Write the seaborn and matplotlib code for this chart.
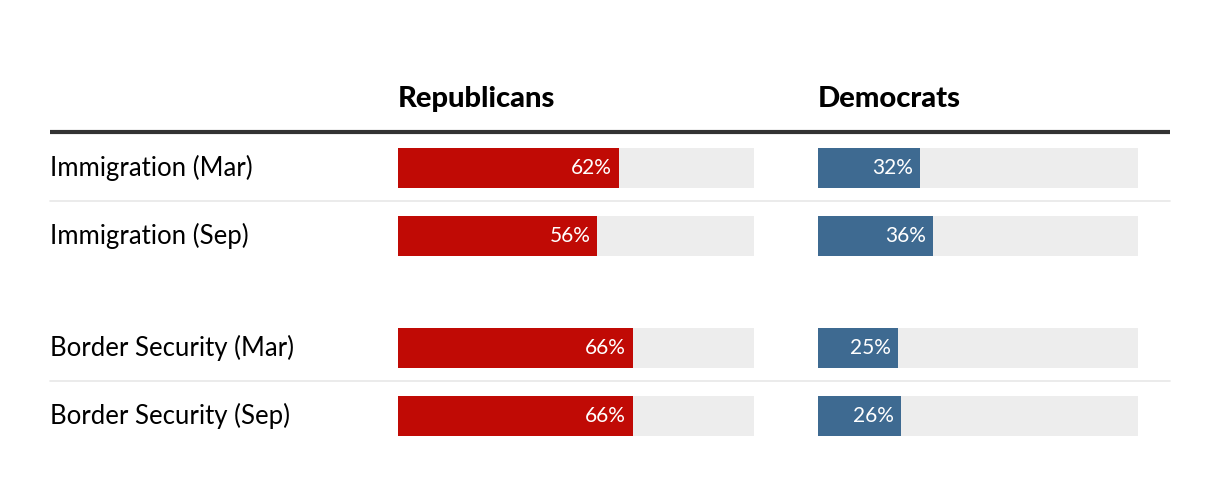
import matplotlib
matplotlib.use("Agg")
import matplotlib.pyplot as plt
import seaborn as sns

categories = ["Immigration (Mar)", "Immigration (Sep)", "Border Security (Mar)", "Border Security (Sep)"]
republicans = [62, 56, 66, 66]
democrats = [32, 36, 25, 26]
groups = ["Republicans", "Democrats"]

sns.set_theme(style="white")
plt.rcParams["font.family"] = ["Lato", "DejaVu Sans"]

W, H = 1220, 498
fig = plt.figure(figsize=(W / 100, H / 100), dpi=100)
fig.patch.set_facecolor("white")

# layout (pixels)
row_y = []
y = 168
for i in range(len(categories)):
    row_y.append(y)
    y += 112 if i == 1 else 68
bar_h = 40

bg = fig.add_axes([0, 0, 1, 1])
bg.set_xlim(0, W)
bg.set_ylim(H, 0)
bg.axis("off")

RED = "#C00A05"
BLUE = "#3E6A91"
GREY = "#EDEDED"

panels = [(398, 356, republicans, RED), (818, 320, democrats, BLUE)]
for (x0, w, vals, col), name in zip(panels, groups):
    ax = fig.add_axes([x0 / W, 0, w / W, 1])
    sns.barplot(x=[100] * len(vals), y=row_y, orient="h", native_scale=True,
                width=bar_h / 68, color=GREY, saturation=1, errorbar=None,
                linewidth=0, ax=ax)
    sns.barplot(x=vals, y=row_y, orient="h", native_scale=True,
                width=bar_h / 68, color=col, saturation=1, errorbar=None,
                linewidth=0, ax=ax)
    ax.set_xlim(0, 100)
    ax.set_ylim(H, 0)
    ax.axis("off")
    ax.patch.set_alpha(0)
    for v, yy in zip(vals, row_y):
        ax.annotate(f"{v}%", xy=(v, yy), xytext=(-7, 0), textcoords="offset pixels",
                    ha="right", va="center", color="white", fontsize=15)
    bg.text(x0, 99, name, ha="left", va="center", fontsize=21, fontweight="black",
            color="black")

for lab, yy in zip(categories, row_y):
    bg.text(50, yy, lab, ha="left", va="center", fontsize=18.5, color="black")

bg.plot([50, 1170], [132, 132], color="#333333", lw=3, solid_capstyle="butt")
for i in (0, 2):
    sep = (row_y[i] + row_y[i + 1]) / 2 - 1
    bg.plot([50, 1170], [sep, sep], color="#E8E8E8", lw=1.2)

fig.savefig("out.png", dpi=100, facecolor="white")
